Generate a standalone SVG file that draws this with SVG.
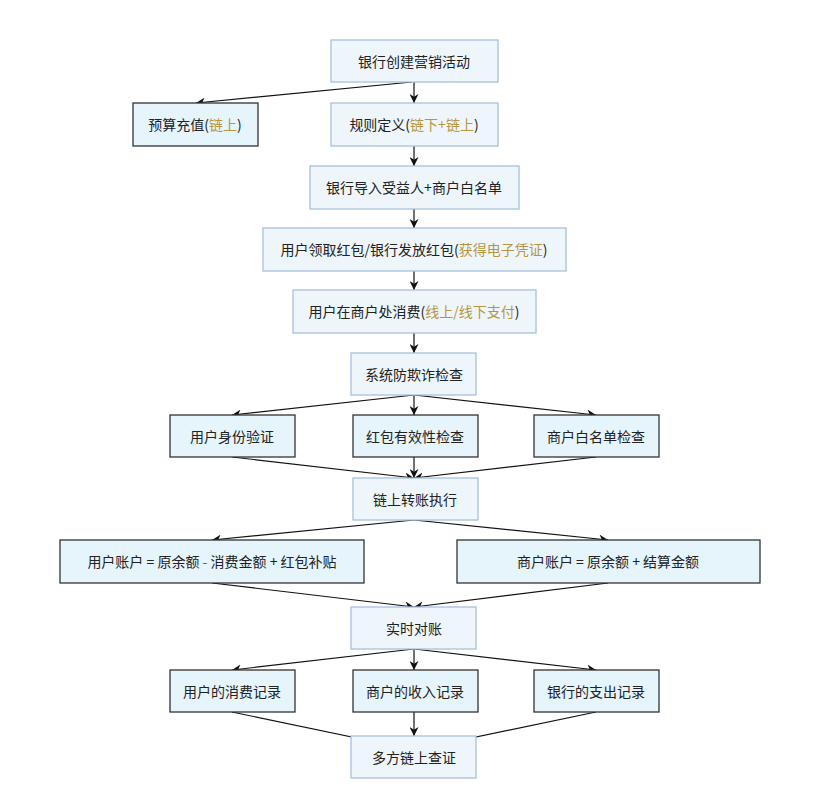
<svg xmlns="http://www.w3.org/2000/svg" width="830" height="802" viewBox="0 0 830 802">
<defs>
<marker id="a" viewBox="0 0 10 10" refX="10" refY="5" markerWidth="9" markerHeight="9" orient="auto" markerUnits="userSpaceOnUse"><path d="M0,0 L10,5 L0,10 L3,5 z" fill="#111"/></marker>
<style>
.l{fill:#eef6fc;stroke:#a8c0dc;stroke-width:1.3}
.d{fill:#e6f4fc;stroke:#333;stroke-width:1.3}
text{font-family:"Noto Sans CJK SC","DejaVu Sans",sans-serif;font-size:14px;fill:#222;text-anchor:middle;dominant-baseline:central}
.g{fill:#b8963e}
.r{fill:#c0392b}
#e path{fill:none;stroke:#111;stroke-width:1.2;marker-end:url(#a)}
</style>
</defs>
<rect width="830" height="802" fill="#fff"/>
<g id="e">
<path d="M414,82 L414,103"/>
<path d="M412,82 L196,103"/>
<path d="M414,146 L414,166"/>
<path d="M414,209 L414,228"/>
<path d="M414,271 L414,290"/>
<path d="M414,333 L414,353"/>
<path d="M414,395 L232,415"/>
<path d="M414,395 L414,415"/>
<path d="M414,395 L596,415"/>
<path d="M232,457 L414,478"/>
<path d="M414,457 L414,478"/>
<path d="M596,457 L414,478"/>
<path d="M414,520 L212,540"/>
<path d="M414,520 L608,540"/>
<path d="M212,583 L414,607"/>
<path d="M608,583 L414,607"/>
<path d="M414,649 L232,670"/>
<path d="M414,649 L414,670"/>
<path d="M414,649 L596,670"/>
<path d="M232,712 L414,750"/>
<path d="M414,712 L414,736"/>
<path d="M596,712 L414,750"/>
</g>
<g id="n1"><rect class="l" x="331" y="40" width="167" height="42"/><text x="414" y="61">银行创建营销活动</text></g>
<g id="n2"><rect class="d" x="133" y="103" width="125" height="43"/><text x="195" y="124">预算充值(<tspan class="g">链上</tspan>)</text></g>
<g id="n3"><rect class="l" x="331" y="103" width="167" height="43"/><text x="414" y="124">规则定义(<tspan class="g">链下+链上</tspan>)</text></g>
<g id="n4"><rect class="l" x="310" y="166" width="209" height="43"/><text x="414" y="187">银行导入受益人+商户白名单</text></g>
<g id="n5"><rect class="l" x="263" y="228" width="303" height="43"/><text x="414" y="249">用户领取红包/银行发放红包(<tspan class="g">获得电子凭证</tspan>)</text></g>
<g id="n6"><rect class="l" x="293" y="290" width="243" height="43"/><text x="414" y="311">用户在商户处消费(<tspan class="g">线上/线下支付</tspan>)</text></g>
<g id="n7"><rect class="l" x="351" y="353" width="125" height="42"/><text x="414" y="374">系统防欺诈检查</text></g>
<g id="n8"><rect class="d" x="170" y="415" width="125" height="42"/><text x="232" y="436">用户身份验证</text></g>
<g id="n9"><rect class="d" x="353" y="415" width="125" height="42"/><text x="415" y="436">红包有效性检查</text></g>
<g id="n10"><rect class="d" x="534" y="415" width="125" height="42"/><text x="596" y="436">商户白名单检查</text></g>
<g id="n11"><rect class="l" x="353" y="478" width="125" height="42"/><text x="415" y="499">链上转账执行</text></g>
<g id="n12"><rect class="d" x="60" y="540" width="304" height="43"/><text x="212" y="561" xml:space="preserve">用户账户 = 原余额 <tspan class="r">-</tspan> 消费金额 + 红包补贴</text></g>
<g id="n13"><rect class="d" x="457" y="540" width="303" height="43"/><text x="608" y="561" xml:space="preserve">商户账户 = 原余额 + 结算金额</text></g>
<g id="n14"><rect class="l" x="351" y="607" width="125" height="42"/><text x="414" y="628">实时对账</text></g>
<g id="n15"><rect class="d" x="170" y="670" width="125" height="42"/><text x="232" y="691">用户的消费记录</text></g>
<g id="n16"><rect class="d" x="353" y="670" width="125" height="42"/><text x="415" y="691">商户的收入记录</text></g>
<g id="n17"><rect class="d" x="534" y="670" width="125" height="42"/><text x="596" y="691">银行的支出记录</text></g>
<g id="n18"><rect class="l" x="351" y="736" width="125" height="42"/><text x="414" y="757">多方链上查证</text></g>
</svg>
